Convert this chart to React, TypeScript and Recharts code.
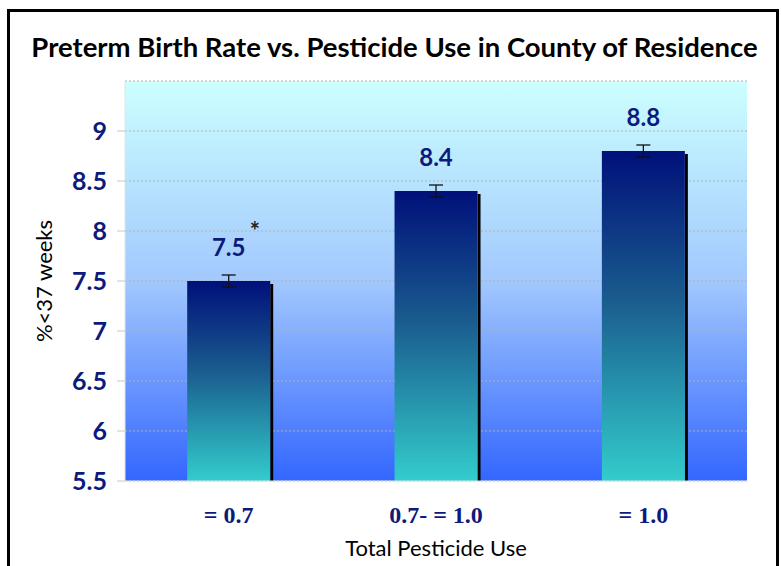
import React from 'react';
import { BarChart, Bar, XAxis, YAxis, CartesianGrid, ErrorBar, LabelList, Label } from 'recharts';

const categories = ['= 0.7', '0.7- = 1.0', '= 1.0'];
const rates = [7.5, 8.4, 8.8];
const errors = [0.06, 0.06, 0.06];
const marks = ['*', '', ''];
const yTicks = [5.5, 6, 6.5, 7, 7.5, 8, 8.5, 9];

const NAVY = '#0c1a7c';

const data = categories.map((name, i) => ({ name, rate: rates[i], err: errors[i] }));

// bar with the dark drop edge on its right side
const ShadowBar = (props: any) => {
  const { x, y, width, height } = props;
  return (
    <g>
      <rect x={x + width} y={y + 3} width={3} height={Math.max(height - 3, 0)} fill="#000" />
      <rect x={x} y={y} width={width} height={height} fill="url(#barGrad)" />
    </g>
  );
};

const renderValue = (props: any) => {
  const { x, y, width, value, index } = props;
  const i = index ?? rates.indexOf(value);
  const cx = x + width / 2;
  return (
    <g>
      <text x={cx} y={y - 25} textAnchor="middle" fill={NAVY} fontSize={24} fontWeight="bold" fontFamily="Lato">
        {value}
      </text>
      {marks[i] ? (
        <text x={cx + 21} y={y - 41} fill="#222" fontSize={24} fontWeight="bold" fontFamily="Lato">
          {marks[i]}
        </text>
      ) : null}
    </g>
  );
};

const CategoryTick = (props: any) => {
  const { x, y, payload } = props;
  return (
    <text x={x} y={y + 34} textAnchor="middle" fill={NAVY} fontSize={24} fontWeight="bold" fontFamily="Liberation Serif">
      {payload.value}
    </text>
  );
};

export default function App() {
  return (
    <div style={{ position: 'absolute', left: 0, top: 0, width: 781, height: 566, overflow: 'hidden', background: '#fff' }}>
      <div style={{ position: 'absolute', left: 7, top: 9, width: 766, height: 620, border: '3px solid #000' }} />
      <div
        style={{
          position: 'absolute',
          left: 0,
          top: 30,
          width: 789,
          textAlign: 'center',
          fontFamily: 'Lato',
          fontWeight: 'bold',
          fontSize: 27.5,
          color: '#000',
          whiteSpace: 'nowrap',
        }}
      >
        Preterm Birth Rate vs. Pesticide Use in County of Residence
      </div>
      <div style={{ position: 'absolute', left: 0, top: 0 }}>
        <BarChart width={781} height={566} data={data} margin={{ top: 81, right: 34, bottom: 0, left: 0 }} barCategoryGap="30%">
          <defs>
            <linearGradient id="bgGrad" x1="0" y1="0" x2="0" y2="1">
              <stop offset="0%" stopColor="#ccffff" />
              <stop offset="50%" stopColor="#a2c8fd" />
              <stop offset="100%" stopColor="#3366ff" />
            </linearGradient>
            <linearGradient id="barGrad" x1="0" y1="0" x2="0" y2="1">
              <stop offset="0%" stopColor="#00107a" />
              <stop offset="45%" stopColor="#1a5c8e" />
              <stop offset="100%" stopColor="#33cccc" />
            </linearGradient>
          </defs>
          <CartesianGrid vertical={false} fill="url(#bgGrad)" fillOpacity={1} stroke="#b0b0b0" strokeDasharray="2 2" />
          <XAxis
            dataKey="name"
            height={85}
            tick={<CategoryTick />}
            tickLine={false}
            axisLine={{ stroke: '#dde5e5' }}
          >
            <Label value="Total Pesticide Use" position="insideBottom" offset={10} fill="#000" fontSize={22} fontFamily="Lato" />
          </XAxis>
          <YAxis
            width={125}
            domain={[5.5, 9.5]}
            ticks={yTicks}
            interval={0}
            tick={{ fill: NAVY, fontSize: 25, fontWeight: 'bold', fontFamily: 'Lato' }}
            tickSize={8}
            tickMargin={10}
            tickLine={{ stroke: '#c8c8c8' }}
            axisLine={{ stroke: '#dde5e5' }}
          >
            <Label
              value="%<37 weeks"
              angle={-90}
              position="insideLeft"
              offset={44}
              textAnchor="middle"
              fill="#000"
              fontSize={22}
              fontFamily="Lato"
            />
          </YAxis>
          <Bar dataKey="rate" shape={<ShadowBar />} isAnimationActive={false}>
            <ErrorBar dataKey="err" width={7} stroke="#111" strokeWidth={1.3} direction="y" />
            <LabelList dataKey="rate" content={renderValue} />
          </Bar>
        </BarChart>
      </div>
    </div>
  );
}
